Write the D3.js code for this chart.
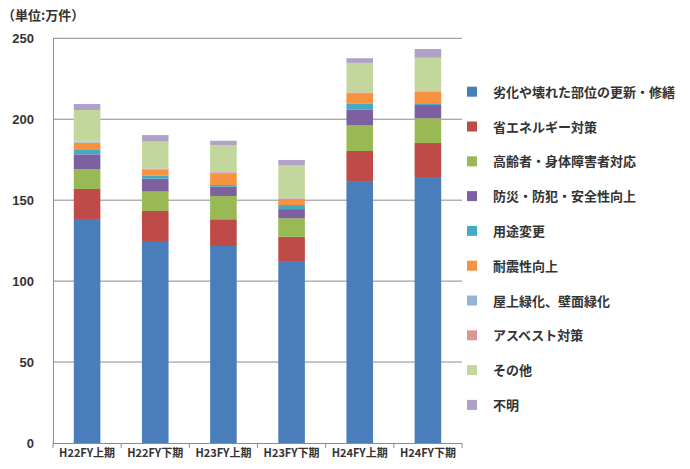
<!DOCTYPE html>
<html><head><meta charset="utf-8">
<script src="https://cdn.jsdelivr.net/npm/d3@7"></script>
<style>
body{margin:0;background:#fff;}
text{font-family:"Noto Sans CJK JP","Noto Sans",sans-serif;}
</style></head>
<body>
<svg id="chart" width="690" height="469"></svg>
<script>
const categories = ["H22FY上期","H22FY下期","H23FY上期","H23FY下期","H24FY上期","H24FY下期"];
const seriesNames = ["劣化や壊れた部位の更新・修繕","省エネルギー対策","高齢者・身体障害者対応","防災・防犯・安全性向上","用途変更","耐震性向上","屋上緑化、壁面緑化","アスベスト対策","その他","不明"];
const colors = ["#4A7EBB","#BE4B48","#98B954","#7D60A0","#46AAC5","#F69240","#95B3D7","#D99795","#C3D69B","#B2A1C7"];
const s0 = [138.4,124.8,121.7,112.4,161.8,164.3];
const s1 = [18.5,18.5,16.5,15.0,18.6,21.0];
const s2 = [12.3,12.0,14.4,11.4,16.0,15.3];
const s3 = [9.1,8.0,5.7,5.7,9.7,8.2];
const s4 = [2.7,2.0,1.1,2.5,3.7,0.6];
const s5 = [4.5,3.8,7.3,3.9,5.8,7.5];
const s6 = [0.4,0.3,0.4,0.3,0.6,0.3];
const s7 = [0.3,0.2,0.3,0.2,0.4,0.2];
const s8 = [19.5,16.6,16.7,20.3,18.2,20.6];
const s9 = [3.7,4.0,2.6,3.1,2.9,5.4];
const yTicks = [0,50,100,150,200,250];

(function(){
const allSeries = [s0,s1,s2,s3,s4,s5,s6,s7,s8,s9];
const rows = categories.map((c,i)=>{const o={cat:c}; seriesNames.forEach((n,j)=>o[n]=allSeries[j][i]); return o;});
const stack = d3.stack().keys(seriesNames)(rows);

const svg = d3.select("#chart");
const pL=53, pR=462, pT=38.3, pB=443;
const x = d3.scaleBand().domain(categories).range([pL,pR]).paddingInner(0.61).paddingOuter(0.305);
const y = d3.scaleLinear().domain([0,250]).range([pB,pT]);

svg.append("g").selectAll("line").data(yTicks.filter(t=>t>0)).join("line")
  .attr("x1",pL).attr("x2",pR).attr("y1",d=>y(d)).attr("y2",d=>y(d))
  .attr("stroke","#8c8c8c").attr("stroke-width",1);

svg.append("line").attr("x1",pL+0.5).attr("x2",pL+0.5).attr("y1",pT).attr("y2",pB)
  .attr("stroke","#8c8c8c");

svg.append("g").selectAll("g").data(stack).join("g")
  .attr("fill",(d,i)=>colors[i])
  .selectAll("rect").data(d=>d).join("rect")
  .attr("x",d=>x(d.data.cat)).attr("width",x.bandwidth())
  .attr("y",d=>y(d[1])).attr("height",d=>Math.max(0,y(d[0])-y(d[1])));

const xAxisG = svg.append("g");
xAxisG.append("line").attr("x1",pL).attr("x2",pR).attr("y1",pB+0.5).attr("y2",pB+0.5).attr("stroke","#8c8c8c");
const bounds = categories.map(c=>x(c)-x.step()*x.paddingInner()/2).concat([pR]);
xAxisG.selectAll("line.t").data(bounds).join("line").attr("class","t")
  .attr("x1",d=>d).attr("x2",d=>d).attr("y1",pB).attr("y2",pB+5).attr("stroke","#8c8c8c");
xAxisG.selectAll("text").data(categories).join("text")
  .attr("x",d=>x(d)+x.bandwidth()/2).attr("y",457)
  .attr("text-anchor","middle").attr("font-size",11).attr("font-weight","bold").attr("fill","#333")
  .text(d=>d);

svg.append("g").selectAll("text").data(yTicks).join("text")
  .attr("x",34).attr("y",d=>y(d)+5).attr("text-anchor","end")
  .attr("font-size",13).attr("font-weight","bold").attr("fill","#333")
  .style("font-family","Liberation Sans, Arial, sans-serif")
  .text(d=>d);

svg.append("text").attr("x",2).attr("y",20).attr("font-size",13).attr("font-weight","bold").attr("fill","#333")
  .text("（単位:万件）");

const lg = svg.append("g").selectAll("g").data(seriesNames).join("g")
  .attr("transform",(d,i)=>`translate(467,${91.7+i*34.8})`);
lg.append("rect").attr("x",0).attr("y",-5).attr("width",10).attr("height",10).attr("fill",(d,i)=>colors[i]);
lg.append("text").attr("x",26).attr("y",5).attr("font-size",13).attr("font-weight","bold").attr("fill","#333").text(d=>d);
})();
</script>
</body></html>
